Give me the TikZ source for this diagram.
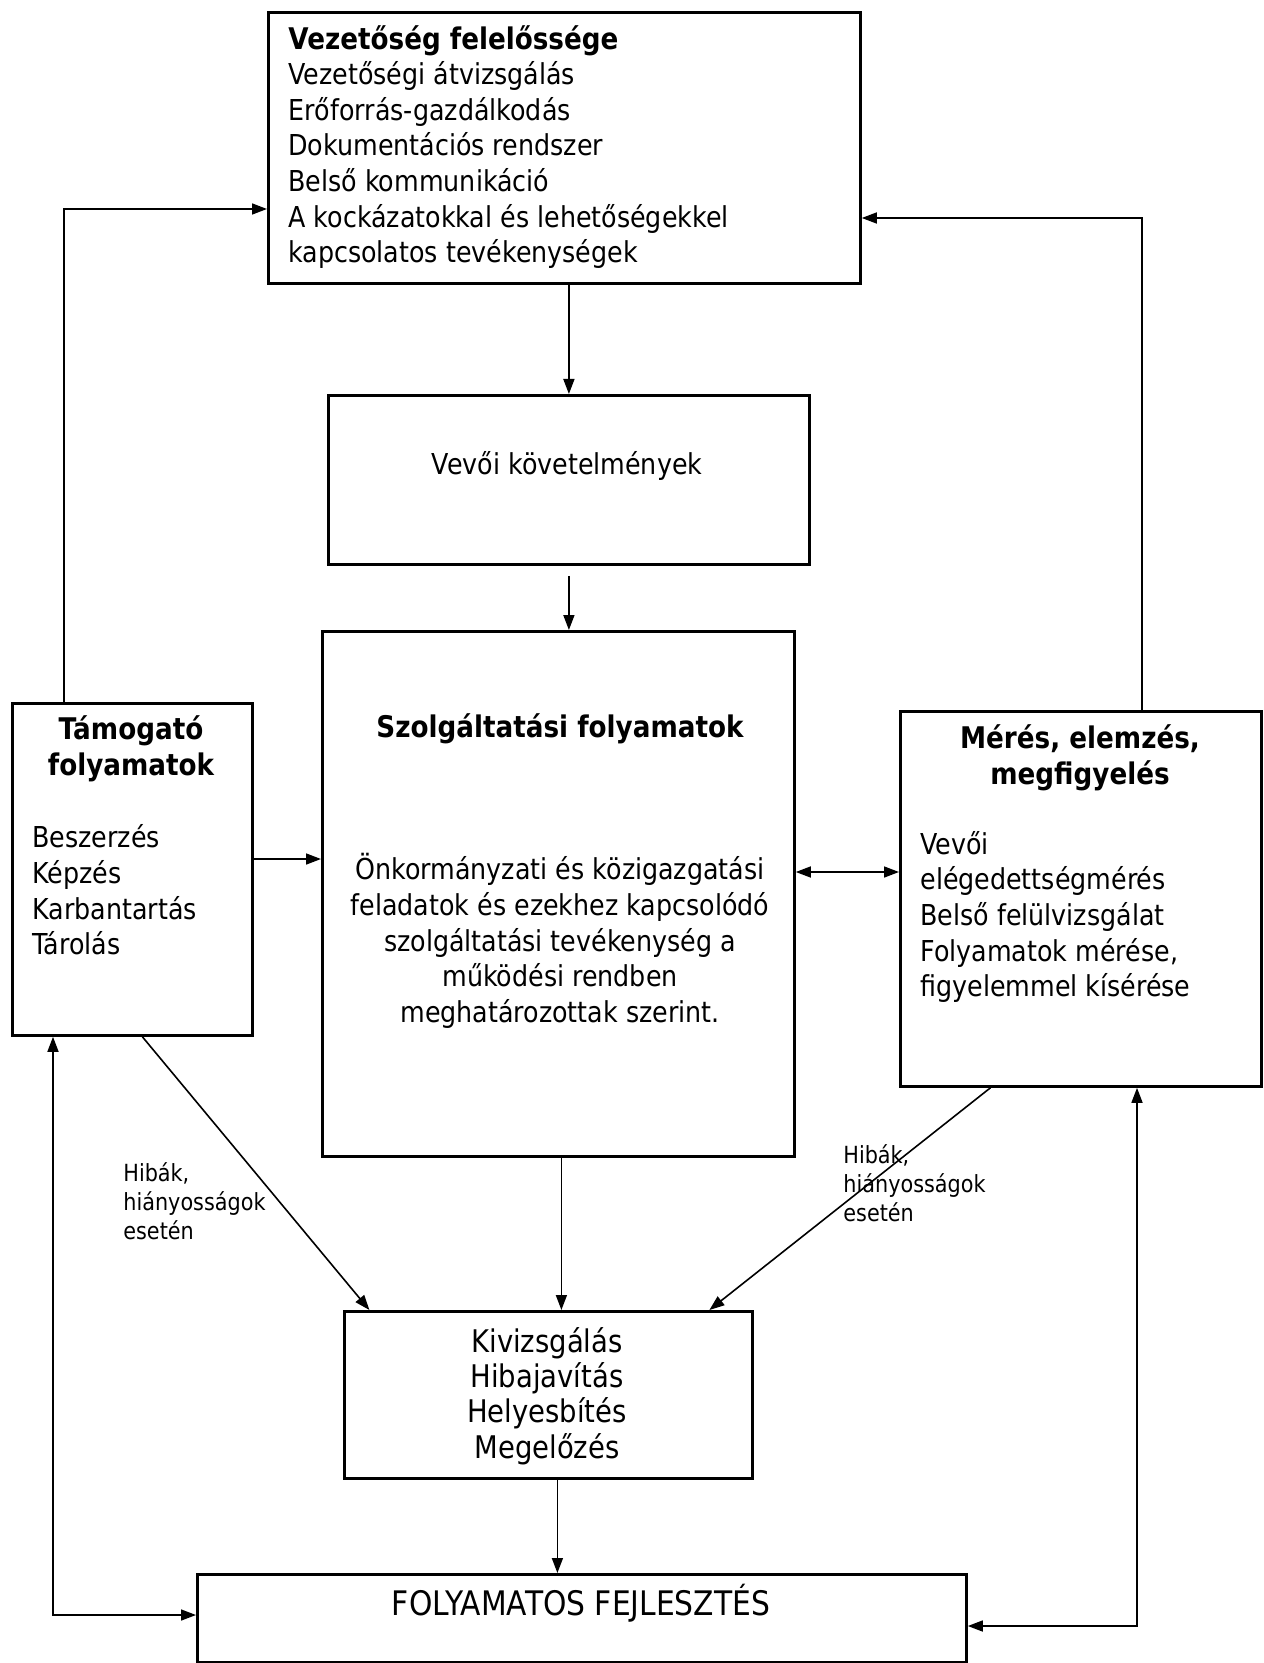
\documentclass[tikz,border=0pt]{standalone}
\usepackage{fontspec}
\setmainfont{DejaVu Sans}[FakeStretch=0.88]
\usetikzlibrary{arrows.meta}
\begin{document}
\begin{tikzpicture}[x=0.5pt,y=-0.5pt,
  box/.style={draw, line width=1.4pt, inner sep=0pt, anchor=north west},
  txt/.style={inner sep=0pt, font=\fontsize{14.4}{17.8}\selectfont},
  btxt/.style={inner sep=0pt, font=\fontsize{14.9}{17.8}\selectfont\bfseries},
  lbl/.style={inner sep=0pt, align=left, anchor=west, font=\fontsize{11.8}{14.5}\selectfont},
  conn/.style={line width=0.8pt, -{Triangle[length=7.5pt,width=5.5pt]}},
  dconn/.style={line width=0.8pt, {Triangle[length=7.5pt,width=5.5pt]}-{Triangle[length=7.5pt,width=5.5pt]}}
  ]
\useasboundingbox (0,0) rectangle (1263,1663);
\clip (0,0) rectangle (1263,1663);

% boxes
\node[box, minimum width=296pt, minimum height=135.5pt] (top) at (267,11) {};
\node[box, minimum width=240.5pt, minimum height=84.5pt] (vevoi) at (327,394) {};
\node[box, minimum width=236pt, minimum height=262.5pt] (szolg) at (321,630) {};
\node[box, minimum width=120pt, minimum height=166pt] (tam) at (11,702) {};
\node[box, minimum width=180.5pt, minimum height=187.5pt] (meres) at (899,710) {};
\node[box, minimum width=204pt, minimum height=83.5pt] (kiv) at (343,1310) {};
\node[box, minimum width=384.5pt, minimum height=44pt] (fejl) at (196,1573) {};

% texts
\node[txt, anchor=west, align=left] (toptxt) at (288,147) {{\fontsize{14.9}{17.8}\selectfont\bfseries Vezetőség felelőssége}\\Vezetőségi átvizsgálás\\Erőforrás-gazdálkodás\\Dokumentációs rendszer\\Belső kommunikáció\\A kockázatokkal és lehetőségekkel\\kapcsolatos tevékenységek};
\node[txt] (vevoitxt) at (567,466) {Vevői követelmények};
\node[btxt] (szolgtitle) at (560,729) {Szolgáltatási folyamatok};
\node[txt, align=center] (szolgtxt) at (560,941) {Önkormányzati és közigazgatási\\feladatok és ezekhez kapcsolódó\\szolgáltatási tevékenység a\\működési rendben\\meghatározottak szerint.};
\node[btxt, align=center] (tamtitle) at (131,749) {Támogató\\folyamatok};
\node[txt, anchor=west, align=left] (tamtxt) at (32,890) {Beszerzés\\Képzés\\Karbantartás\\Tárolás};
\node[btxt, align=center] (merestitle) at (1080,758) {Mérés, elemzés,\\megfigyelés};
\node[txt, anchor=west, align=left] (merestxt) at (920,917) {Vevői\\elégedettségmérés\\Belső felülvizsgálat\\Folyamatok mérése,\\figyelemmel kísérése};
\node[txt, align=center, font=\fontsize{15.6}{17.6}\selectfont] (kivtxt) at (547,1396) {Kivizsgálás\\Hibajavítás\\Helyesbítés\\Megelőzés};
\node[txt, font=\fontsize{16.9}{20}\selectfont] (fejltxt) at (581,1603) {FOLYAMATOS FEJLESZTÉS};

\node[lbl] (lbl1) at (123,1201) {Hibák,\\hiányosságok\\esetén};
\node[lbl] (lbl2) at (843,1183) {Hibák,\\hiányosságok\\esetén};

% helper coordinates
\coordinate (tl) at (64,209);
\coordinate (tr) at (1142,218);
\coordinate (ts) at (0,859);
\coordinate (sm) at (0,872);
\coordinate (bl) at (53,1615);
\coordinate (br) at (1137,1626);

% connectors
\draw[conn] (vevoi.north |- top.south) -- (vevoi.north);
\draw[conn, shorten <=5pt] (vevoi.south) -- (vevoi.south |- szolg.north);
\draw[conn] (tam.north -| tl) -- (tl) -- (tl -| top.west);
\draw[conn] (meres.north -| tr) -- (tr) -- (tr -| top.east);
\draw[conn] (tam.east |- ts) -- (szolg.west |- ts);
\draw[dconn] (szolg.east |- sm) -- (meres.west |- sm);
\draw[conn] ([xshift=5pt]tam.south) -- ([xshift=-89.5pt]kiv.north);
\draw[conn] ([xshift=1.5pt]szolg.south) -- ([xshift=1.5pt]szolg.south |- kiv.north);
\draw[conn] ([xshift=-45.25pt]meres.south) -- ([xshift=80.5pt]kiv.north);
\draw[conn] ([xshift=4.5pt]kiv.south) -- ([xshift=4.5pt]kiv.south |- fejl.north);
\draw[dconn] (tam.south -| bl) -- (bl) -- (bl -| fejl.west);
\draw[dconn] (meres.south -| br) -- (br) -- (br -| fejl.east);
\end{tikzpicture}
\end{document}
